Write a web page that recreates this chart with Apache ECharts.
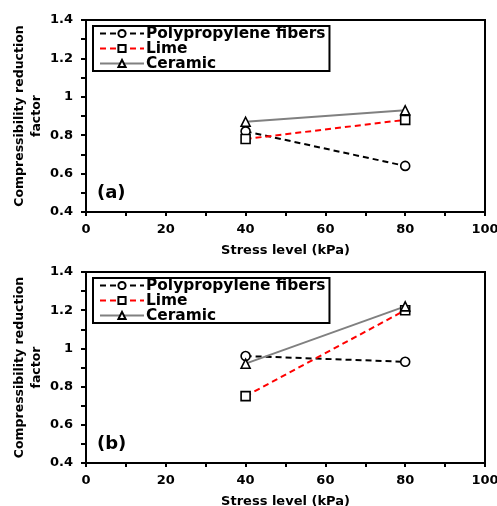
<!DOCTYPE html>
<html lang="en">
<head>
    <meta charset="utf-8">
    <title>Compressibility reduction factor</title>
    <script src="https://cdn.jsdelivr.net/npm/echarts@6.0.0/dist/echarts.min.js"></script>
    <style>
        html, body { margin: 0; padding: 0; background: #fff; }
        #chart { width: 497px; height: 506px; }
    </style>
</head>
<body>
    <div id="chart"></div>
    <script>
        // data
        const stress = [40, 80];
        const seriesNames = ['Polypropylene fibers', 'Lime', 'Ceramic'];
        const polyA = [0.82, 0.64];
        const limeA = [0.78, 0.88];
        const ceramicA = [0.87, 0.93];
        const polyB = [0.96, 0.93];
        const limeB = [0.75, 1.2];
        const ceramicB = [0.92, 1.22];
        const panelLabels = ['(a)', '(b)'];

        const font = 'DejaVu Sans';
        const styles = [
            { color: '#000', type: [6, 4], symbol: 'circle' },
            { color: '#ff0000', type: [6, 4], symbol: 'rect' },
            { color: '#808080', type: 'solid', symbol: 'triangle' }
        ];

        function pairs(vals) {
            return stress.map((x, i) => [x, vals[i]]);
        }

        function makeSeries(idx, vals, name) {
            const s = styles[name];
            return {
                name: seriesNames[name],
                type: 'line',
                xAxisIndex: idx,
                yAxisIndex: idx,
                data: pairs(vals),
                symbol: s.symbol,
                symbolSize: 9,
                lineStyle: { color: s.color, width: 2, type: s.type },
                itemStyle: { color: '#fff', borderColor: '#000', borderWidth: 1.6 },
                emphasis: { disabled: true },
                animation: false
            };
        }

        const grids = [
            { left: 86, top: 20, width: 399, height: 192 },
            { left: 86, top: 272, width: 399, height: 191 }
        ];

        function xAxis(idx) {
            return {
                type: 'value', gridIndex: idx, min: 0, max: 100, interval: 20,
                name: 'Stress level (kPa)', nameLocation: 'middle', nameGap: 32,
                nameTextStyle: { fontFamily: font, fontWeight: 'bold', fontSize: 13, color: '#000' },
                axisLine: { lineStyle: { color: '#000', width: 2 } },
                axisTick: { show: true, inside: false, length: 4, lineStyle: { color: '#000', width: 2 } },
                minorTick: { show: true, splitNumber: 2, length: 4, lineStyle: { color: '#000', width: 2 } },
                axisLabel: { fontFamily: font, fontWeight: 'bold', fontSize: 13, color: '#000', margin: 11 },
                splitLine: { show: false }
            };
        }

        function yAxis(idx) {
            return {
                type: 'value', gridIndex: idx, min: 0.4, max: 1.4, interval: 0.2,
                name: 'Compressibility reduction\nfactor', nameLocation: 'middle', nameGap: 41, nameRotate: 90,
                nameMoveOverlap: false,
                nameTextStyle: { fontFamily: font, fontWeight: 'bold', fontSize: 12.5, color: '#000', lineHeight: 17 },
                axisLine: { show: true, lineStyle: { color: '#000', width: 2 } },
                axisTick: { show: true, inside: false, length: 5, lineStyle: { color: '#000', width: 2 } },
                minorTick: { show: true, splitNumber: 2, length: 5, lineStyle: { color: '#000', width: 2 } },
                axisLabel: { fontFamily: font, fontWeight: 'bold', fontSize: 13, color: '#000', margin: 13 },
                splitLine: { show: false }
            };
        }

        function legend(top) {
            return {
                data: seriesNames, orient: 'vertical', left: 93, top: top,
                itemWidth: 44, itemHeight: 9, itemGap: 0,
                borderColor: '#000', borderWidth: 2, borderRadius: 0, padding: [0, 4, 0, 6],
                textStyle: { fontFamily: font, fontWeight: 'bold', fontSize: 15.4, lineHeight: 15, color: '#000', padding: [0, 0, 0, -3] },
                selectedMode: false
            };
        }

        const chart = echarts.init(document.getElementById('chart'));
        chart.setOption({
            backgroundColor: '#fff',
            animation: false,
            grid: grids.map(g => Object.assign({
                show: true, borderColor: '#000', borderWidth: 2, backgroundColor: 'transparent',
                containLabel: false, outerBoundsMode: 'none'
            }, g)),
            xAxis: [xAxis(0), xAxis(1)],
            yAxis: [yAxis(0), yAxis(1)],
            legend: [legend(26), legend(278)],
            title: panelLabels.map((t, i) => ({
                text: t, left: 92, top: grids[i].top + grids[i].height - 33,
                textStyle: { fontFamily: font, fontWeight: 'bold', fontSize: 18, color: '#000' }
            })),
            series: [
                makeSeries(0, polyA, 0), makeSeries(0, limeA, 1), makeSeries(0, ceramicA, 2),
                makeSeries(1, polyB, 0), makeSeries(1, limeB, 1), makeSeries(1, ceramicB, 2)
            ]
        });
    </script>
</body>
</html>
